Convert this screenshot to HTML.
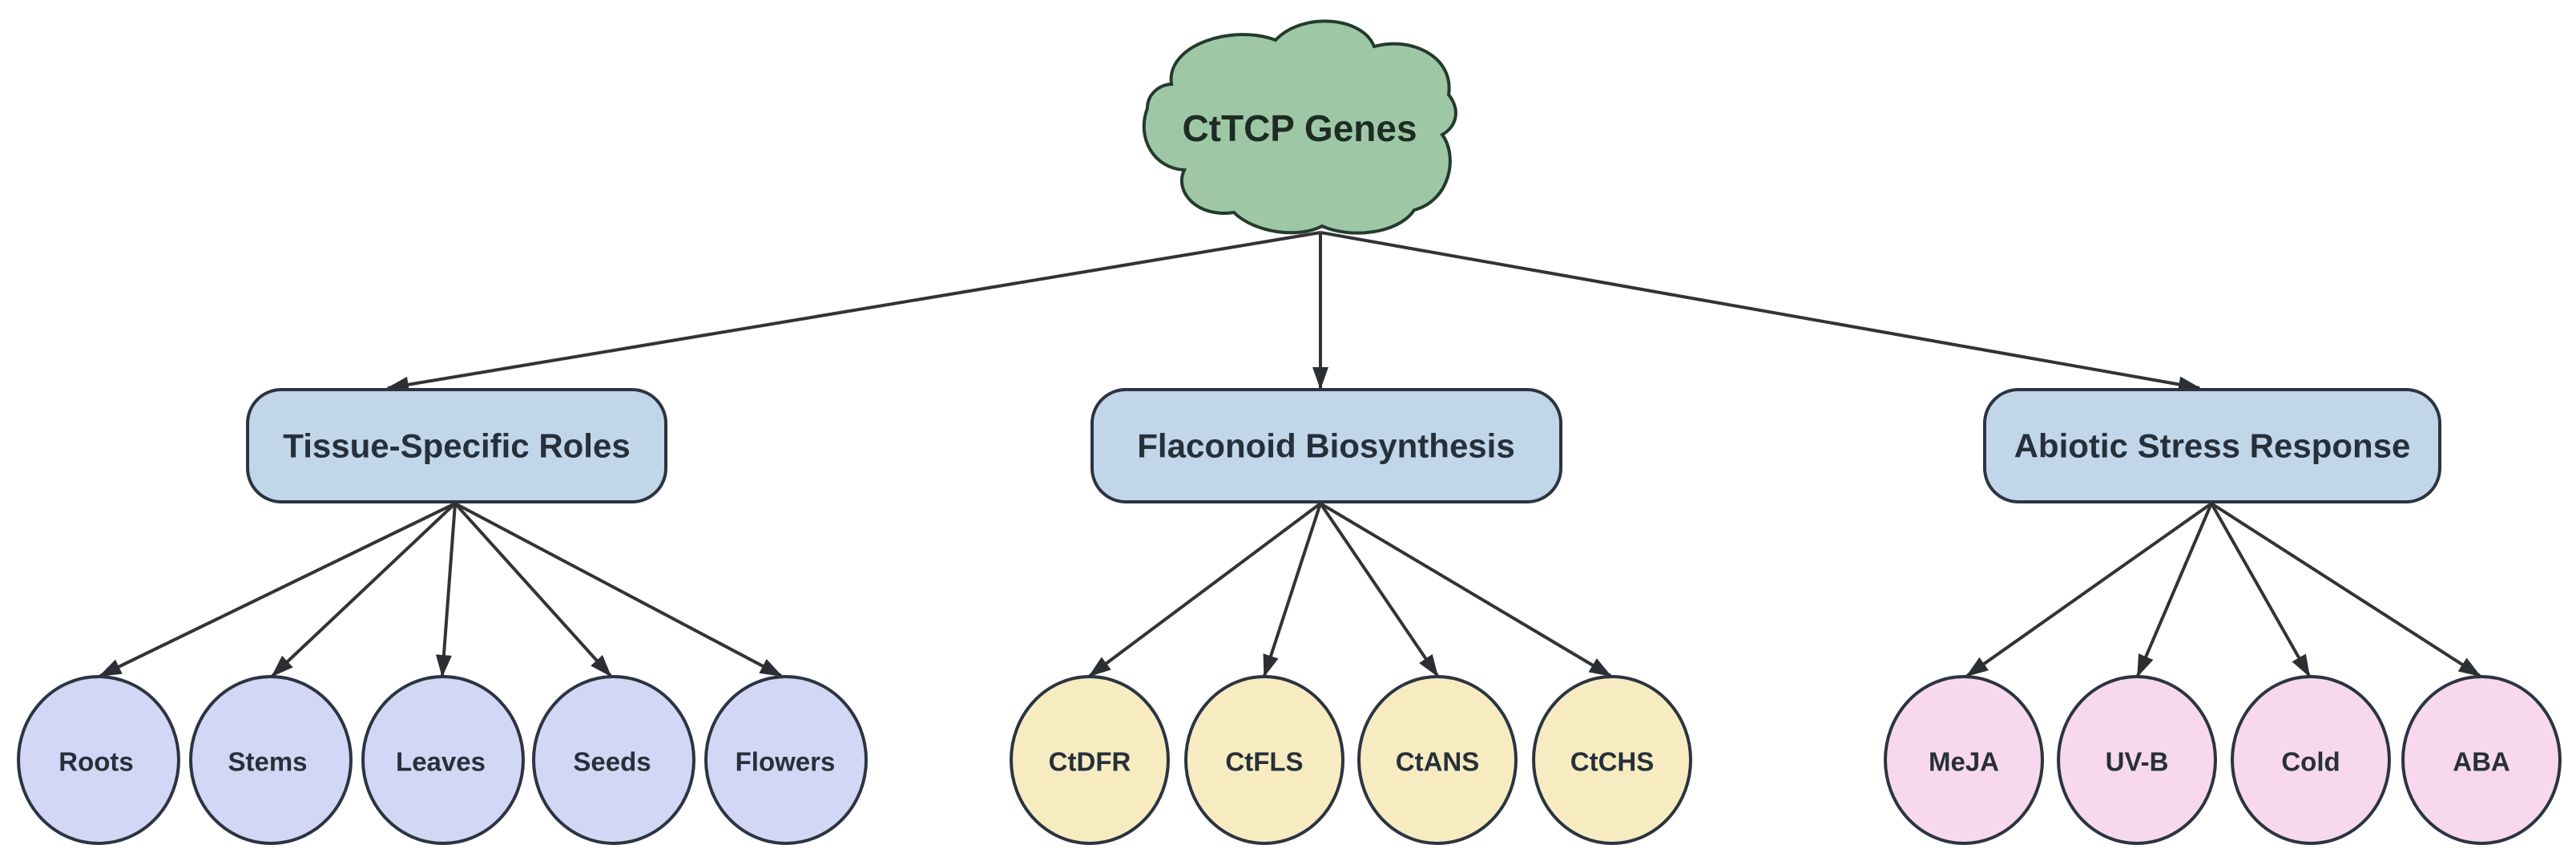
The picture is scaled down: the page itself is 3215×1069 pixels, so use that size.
<!DOCTYPE html>
<html><head><meta charset="utf-8"><style>
html,body{margin:0;padding:0;background:#fff;}
svg{display:block;}
text{font-family:"Liberation Sans",sans-serif;font-weight:bold;fill:#26303a;text-anchor:middle;dominant-baseline:central;}
</style></head><body>
<svg width="3215" height="1069" viewBox="0 0 3215 1069" xmlns="http://www.w3.org/2000/svg">
<defs>
<marker id="a" markerWidth="7" markerHeight="5" refX="6.5" refY="2.5" orient="auto" markerUnits="strokeWidth">
<path d="M0,0 L7,2.5 L0,5 Z" fill="#2b2f33"/>
</marker>
</defs>
<g stroke="#333" stroke-width="4" fill="none" marker-end="url(#a)">
<line x1="1648" y1="290" x2="484" y2="484"/>
<line x1="1648" y1="290" x2="1648" y2="484"/>
<line x1="1648" y1="290" x2="2745" y2="484"/>
<line x1="568" y1="628" x2="125" y2="843"/>
<line x1="568" y1="628" x2="340" y2="843"/>
<line x1="568" y1="628" x2="552" y2="843"/>
<line x1="568" y1="628" x2="762" y2="843"/>
<line x1="568" y1="628" x2="975" y2="843"/>
<line x1="1648" y1="628" x2="1360" y2="843"/>
<line x1="1648" y1="628" x2="1578" y2="843"/>
<line x1="1648" y1="628" x2="1794" y2="843"/>
<line x1="1648" y1="628" x2="2010" y2="843"/>
<line x1="2760" y1="628" x2="2455" y2="843"/>
<line x1="2760" y1="628" x2="2668" y2="843"/>
<line x1="2760" y1="628" x2="2882" y2="843"/>
<line x1="2760" y1="628" x2="3095" y2="843"/>
</g>
<path d="M1462,105 C1455,55 1540,30 1592,50 C1625,15 1700,20 1715,58 C1760,45 1815,70 1808,118 C1825,140 1815,160 1800,168 C1820,195 1810,250 1765,262 C1745,292 1685,298 1650,282 C1620,298 1565,290 1540,265 C1495,272 1465,240 1478,212 C1440,210 1418,172 1432,135 C1432,115 1450,105 1462,105 Z" fill="#9ec8a5" stroke="#233a2c" stroke-width="4"/>
<text x="1622" y="160" font-size="46" style="fill:#1e2b24">CtTCP Genes</text>
<g stroke="#2b3440" stroke-width="4">
<rect x="309" y="486" width="522" height="140" rx="42" fill="#c2d6ea"/>
<rect x="1363" y="486" width="585" height="140" rx="42" fill="#c2d6ea"/>
<rect x="2477" y="486" width="568" height="140" rx="42" fill="#c2d6ea"/>
</g>
<text x="570" y="556" font-size="42">Tissue-Specific Roles</text>
<text x="1655" y="556" font-size="42">Flaconoid Biosynthesis</text>
<text x="2761" y="556" font-size="42">Abiotic Stress Response</text>
<g stroke="#2b3440" stroke-width="4">
<ellipse cx="123" cy="948" rx="100" ry="104" fill="#d3d7f6"/>
<ellipse cx="338" cy="948" rx="100" ry="104" fill="#d3d7f6"/>
<ellipse cx="553" cy="948" rx="100" ry="104" fill="#d3d7f6"/>
<ellipse cx="766" cy="948" rx="100" ry="104" fill="#d3d7f6"/>
<ellipse cx="981" cy="948" rx="100" ry="104" fill="#d3d7f6"/>
<ellipse cx="1360" cy="948" rx="98" ry="104" fill="#f7ecc1"/>
<ellipse cx="1578" cy="948" rx="98" ry="104" fill="#f7ecc1"/>
<ellipse cx="1794" cy="948" rx="98" ry="104" fill="#f7ecc1"/>
<ellipse cx="2012" cy="948" rx="98" ry="104" fill="#f7ecc1"/>
<ellipse cx="2451" cy="948" rx="98" ry="104" fill="#f7d8ec"/>
<ellipse cx="2667" cy="948" rx="98" ry="104" fill="#f7d8ec"/>
<ellipse cx="2884" cy="948" rx="98" ry="104" fill="#f7d8ec"/>
<ellipse cx="3097" cy="948" rx="98" ry="104" fill="#f7d8ec"/>
</g>
<g font-size="33">
<text x="120" y="950">Roots</text>
<text x="334" y="950">Stems</text>
<text x="550" y="950">Leaves</text>
<text x="764" y="950">Seeds</text>
<text x="980" y="950">Flowers</text>
<text x="1360" y="950">CtDFR</text>
<text x="1578" y="950">CtFLS</text>
<text x="1794" y="950">CtANS</text>
<text x="2012" y="950">CtCHS</text>
<text x="2451" y="950">MeJA</text>
<text x="2667" y="950">UV-B</text>
<text x="2884" y="950">Cold</text>
<text x="3097" y="950">ABA</text>
</g>
</svg>
</body></html>
